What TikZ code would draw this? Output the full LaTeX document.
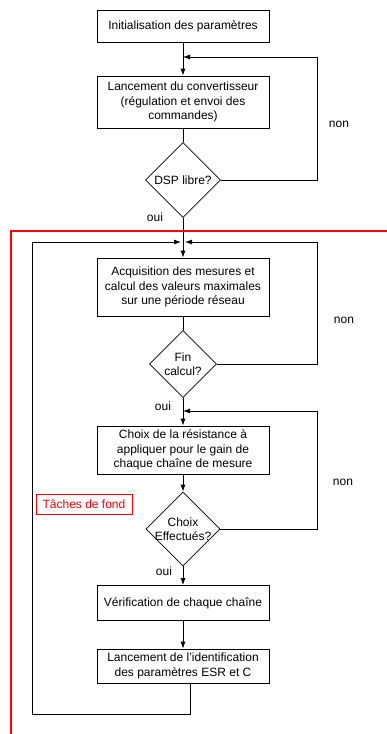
\documentclass[tikz,border=0pt]{standalone}
\usepackage{fontspec}
\setmainfont{Liberation Sans}
\usetikzlibrary{shapes.geometric,arrows.meta}
\begin{document}
\begin{tikzpicture}[x=1pt,y=-1pt,
  font=\fontsize{12}{14.5}\selectfont,
  etape/.style={draw, line width=0.8pt, minimum width=172pt,
                minimum height=#1, align=center, inner sep=2pt},
  test/.style={draw, diamond, line width=0.8pt, align=center,
               inner sep=-4pt, minimum width=#1, minimum height=#1},
  arrow/.style={-{Latex[length=7pt,width=5pt]}, line width=0.8pt},
  ligne/.style={line width=0.8pt},
  cadre/.style={color=red, line width=1.2pt}
]
  \useasboundingbox (0,0) rectangle (387,734);
  % zone des taches de fond
  \draw[cadre] (11,734) -- (11,231) -- (387,231);
  \node[draw=red, text=red, line width=0.8pt, minimum width=96pt,
        minimum height=20pt] (fond) at (84,504) {Tâches de fond};

  \node[etape=32pt] (init)  at (183,26)  {Initialisation des paramètres};
  \node[etape=52pt] (conv)  at (183,102) {Lancement du convertisseur\\(régulation et envoi des\\commandes)};
  \node[test=75pt]  (dsp)   at (183,180) {DSP libre?};
  \node[etape=58pt] (acq)   at (183,287) {Acquisition des mesures et\\calcul des valeurs maximales\\sur une période réseau};
  \node[test=67pt]  (fin)   at (183,364) {Fin\\calcul?};
  \node[etape=48pt] (choix) at (183,450) {Choix de la résistance à\\appliquer pour le gain de\\chaque chaîne de mesure};
  \node[test=74pt]  (eff)   at (183,529) {Choix\\Effectués?};
  \node[etape=35pt] (verif) at (183,603) {Vérification de chaque chaîne};
  \node[etape=34pt] (ident) at (183,666) {Lancement de l'identification\\des paramètres ESR et C};

  \coordinate (j1) at (183,57);
  \coordinate (j2) at (183,242);
  \coordinate (j3) at (183,411);

  \node (non1) at (339,124) {non};
  \node (non2) at (344,320) {non};
  \node (non3) at (343,482) {non};
  \node (oui1) at (155,217) {oui};
  \node (oui2) at (163,406) {oui};
  \node (oui3) at (164,571) {oui};

  \draw[arrow] (init) -- (conv);
  \draw[ligne] (conv) -- (dsp);
  \draw[arrow] (dsp.east) -- ++(96.5,0) |- (j1);
  \draw[arrow] (dsp) -- (acq);
  \draw[ligne] (acq) -- (fin);
  \draw[arrow] (fin.east) -- ++(100.5,0) |- ([xshift=2pt]j2);
  \draw[arrow] (fin) -- (choix);
  \draw[arrow] (choix) -- (eff);
  \draw[arrow] (eff.east) -- ++(97,0) |- (j3);
  \draw[arrow] (eff) -- (verif);
  \draw[arrow] (verif) -- (ident);
  \draw[arrow] ([xshift=7pt]ident.south) -- ++(0,31) -| (32,242) -- ([xshift=-2pt]j2);
\end{tikzpicture}
\end{document}
